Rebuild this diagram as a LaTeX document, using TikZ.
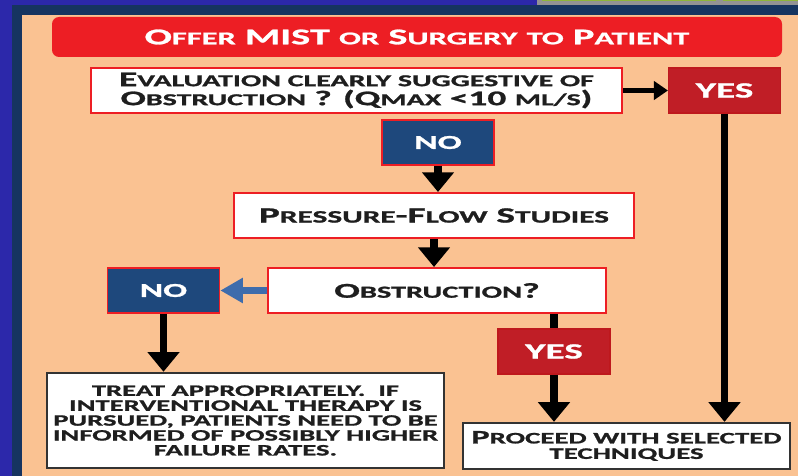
\documentclass[tikz,border=0pt]{standalone}
\usepackage{fontspec}
\setmainfont{Carlito}[FakeStretch=1.8, BoldFeatures={FakeBold=1.2}]
\usepackage{graphicx}
\usetikzlibrary{shapes.geometric, arrows.meta}
\definecolor{bgblue}{RGB}{44,40,170}
\definecolor{panelnavy}{RGB}{22,52,96}
\definecolor{peach}{RGB}{250,194,146}
\definecolor{bannerred}{RGB}{237,30,36}
\definecolor{yesred}{RGB}{192,30,38}
\definecolor{nonavy}{RGB}{30,72,124}
\definecolor{noarrow}{RGB}{62,108,172}
\definecolor{inkgrey}{RGB}{30,30,30}
\newcommand{\smc}[1]{\scalebox{0.8}{#1}}
\tikzstyle{banner} = [rectangle, rounded corners=5pt, minimum width=18.25cm, minimum height=1cm, text centered, fill=bannerred, text=white, font=\bfseries\fontsize{16}{18}\selectfont]
\tikzstyle{question} = [rectangle, draw=bannerred, line width=1.4pt, minimum height=1.125cm, text centered, align=center, fill=white, text=inkgrey, inner sep=0pt]
\tikzstyle{yesbox} = [rectangle, draw=bannerred!80!black, line width=0.8pt, minimum width=2.8cm, minimum height=1.125cm, fill=yesred, text=white, font=\bfseries\fontsize{15.5}{17}\selectfont]
\tikzstyle{nobox} = [rectangle, draw=bannerred, line width=1.2pt, minimum width=2.8cm, minimum height=1.125cm, fill=nonavy, text=white, font=\bfseries\fontsize{14}{16}\selectfont]
\tikzstyle{outcome} = [rectangle, draw=black!80, line width=1.6pt, text centered, align=center, fill=white, text=inkgrey, inner sep=0pt]
\tikzstyle{arrow} = [line width=5pt, -{Triangle[length=14pt,width=22pt]}]
\tikzstyle{link} = [line width=5pt]

\begin{document}
\begin{tikzpicture}
            \useasboundingbox (0,0) rectangle (19.95,-11.9);
            \fill [bgblue] (0,0) rectangle (19.95,-11.9);
            \fill [gray!85] (13.425,0) rectangle (19.95,-0.18);
            \draw [yellow!60!green!80!black, line width=1pt] (13.55,-0.02) -- (17.9,-0.02) (18.07,-0.02) -- (19.95,-0.02);
            \begin{scope}
            \clip (0,0) rectangle (19.95,-11.9);
            \draw [fill=peach, draw=panelnavy, line width=7pt] (0.43,-0.26) rectangle (20.6,-12.5);
            \end{scope}
            \node [banner] at (10.425,-0.925) (offer) {O\smc{FFER} MIST \smc{OR} S\smc{URGERY} \smc{TO} P\smc{ATIENT}};
            \node [question, minimum width=13.28cm, font=\bfseries\fontsize{14.8}{13.5}\selectfont] at (8.9125,-2.2625) (eval) {E\smc{VALUATION CLEARLY SUGGESTIVE OF}\\O\smc{BSTRUCTION} ? (Q\smc{MAX} <10 \smc{ML/S})};
            \node [yesbox] at (18.1125,-2.2625) (yes1) {YES};
            \node [nobox] at (10.95,-3.5625) (no1) {NO};
            \node [question, minimum width=10cm, font=\bfseries\fontsize{15.5}{15}\selectfont] at (10.85,-5.3875) (pfs) {P\smc{RESSURE}-F\smc{LOW} S\smc{TUDIES}};
            \node [question, minimum width=8.45cm, font=\bfseries\fontsize{15}{15}\selectfont] at (10.925,-7.2625) (obstr) {O\smc{BSTRUCTION}?};
            \node [nobox] at (4.0875,-7.2625) (no2) {NO};
            \node [yesbox] at (13.85,-8.7875) (yes2) {YES};
            \node [outcome, minimum width=9.93cm, minimum height=2.38cm, font=\bfseries\fontsize{11.3}{10.6}\selectfont] at (6.1375,-10.5125) (treat) {TREAT APPROPRIATELY.\ \ IF\\INTERVENTIONAL THERAPY IS\\PURSUED, PATIENTS NEED TO BE\\INFORMED OF POSSIBLY HIGHER\\FAILURE RATES.};
            \node [outcome, minimum width=8.18cm, minimum height=1.15cm, font=\bfseries\fontsize{11.4}{11}\selectfont] at (15.6625,-11.15) (proceed) {{\fontsize{13.5}{11}\selectfont P}ROCEED WITH SELECTED\\TECHNIQUES};
            \draw [line width=3.2pt, -{Triangle[length=10pt,width=13pt]}] (eval) -- (yes1);
            \draw [arrow] (no1.south) -- (no1.south |- pfs.north);
            \draw [arrow] (pfs.south) -- (pfs.south |- obstr.north);
            \draw [arrow, draw=noarrow, -{Triangle[length=16pt,width=17pt]}] (obstr) -- (no2);
            \draw [arrow] (no2.south) -- (no2.south |- treat.north);
            \draw [link] (obstr.south -| yes2.north) -- (yes2.north);
            \draw [arrow] (yes2.south) -- (yes2.south |- proceed.north);
            \draw [arrow] (yes1.south) -- (yes1.south |- proceed.north);
            \end{tikzpicture}
\end{document}
